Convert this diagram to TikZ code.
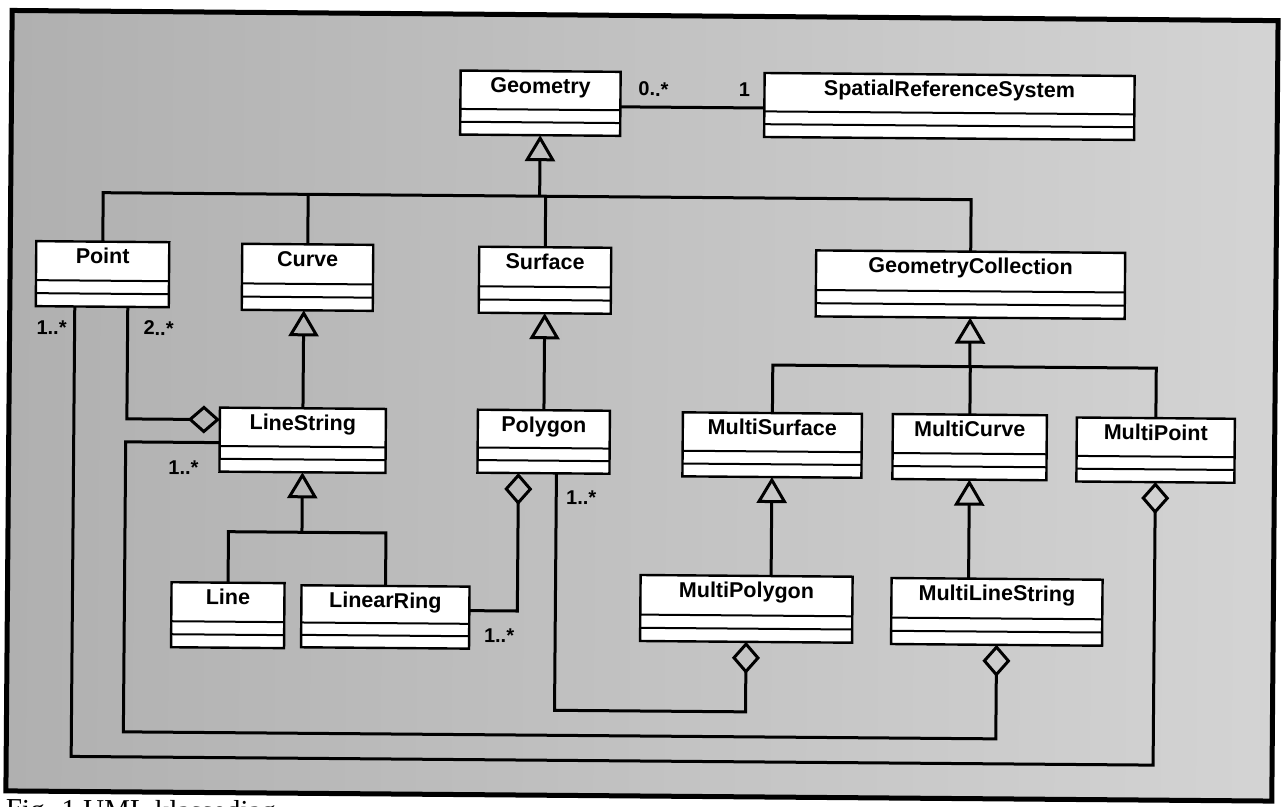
\documentclass[tikz,border=0pt]{standalone}
\usepackage{fontspec}
\setsansfont{Liberation Sans}
\newfontfamily\capfont{Liberation Serif}
\usetikzlibrary{arrows.meta,calc}
\tikzset{
  clsbox/.style={draw=black,fill=white,line width=2.4pt,inner sep=0pt,outer sep=0pt},
  clsname/.style={anchor=base,inner sep=0pt,font=\sffamily\bfseries\fontsize{21.5}{25}\selectfont},
  cmpline/.style={line width=2pt},
  conn/.style={line width=3pt},
  mult/.style={inner sep=0pt,font=\sffamily\bfseries\fontsize{20}{22}\selectfont},
  gentip/.tip={Triangle[open,width=30pt,length=26pt]},
  aggtip/.tip={Diamond[open,width=28pt,length=32pt]}
}
\newcommand\umlclass[6]{%
  \node[clsbox,minimum width={(#4)-(#2)},minimum height={(#5)-(#3)}] (#1) at ({((#2)+(#4))/2},{((#3)+(#5))/2}) {};
  \draw[cmpline] ($(#1.north west)!0.6!(#1.south west)$) -- ($(#1.north east)!0.6!(#1.south east)$);
  \draw[cmpline] ($(#1.north west)!0.8!(#1.south west)$) -- ($(#1.north east)!0.8!(#1.south east)$);
  \node[clsname] (#1-t) at ($(#1.north)+(0,22)$) {#6};
}
\begin{document}
\begin{tikzpicture}[x=1pt,y=-1pt]
\fill[white] (0,0) rectangle (1282,806);
\useasboundingbox (0,0) rectangle (1282,806);
\clip (0,0) rectangle (1282,806);
\begin{scope}[transform canvas={rotate around={-0.46:(641,403)}}]
\shade[left color=black!31,right color=black!17] (9,15.5) rectangle (1275,796);
\draw[line width=5pt] (9,15.5) rectangle (1275,796);
\node[anchor=base west,inner sep=0pt,font=\capfont\fontsize{29}{32}\selectfont] (cap) at (9,824) {Fig. 1 UML klassediagram};

% classes
\umlclass{geo}{458}{72}{618}{136}{Geometry}
\umlclass{srs}{762}{72}{1132}{136}{SpatialReferenceSystem}
\umlclass{pt}{35}{246}{168}{311}{Point}
\umlclass{cv}{241}{247}{372}{313}{Curve}
\umlclass{sf}{478}{248}{610}{314}{Surface}
\umlclass{gc}{815}{249}{1124}{315}{GeometryCollection}
\umlclass{ls}{220}{411}{386}{475}{LineString}
\umlclass{pg}{478}{411}{610}{474}{Polygon}
\umlclass{msf}{683}{412}{862}{476}{MultiSurface}
\umlclass{mcv}{893}{412}{1047}{477}{MultiCurve}
\umlclass{mpt}{1077}{414}{1235}{478}{MultiPoint}
\umlclass{ln}{173}{586}{286}{651}{Line}
\umlclass{lr}{303}{588}{471}{650}{LinearRing}
\umlclass{mpg}{642}{575}{854}{641}{MultiPolygon}
\umlclass{mls}{893}{576}{1104}{642}{MultiLineString}

% association Geometry - SRS
\coordinate (a1) at ($(geo.north east)+(0,35)$);
\draw[conn] (a1) -- (a1 -| srs.west);
\node[mult] (m-geo) at (651,89) {0..*};
\node[mult] (m-srs) at (742,89) {1};

% generalization to Geometry
\coordinate (b1) at (538,197);
\draw[conn,-{gentip}] (b1) -- (geo.south);
\draw[conn] (pt.north) |- (gc.north |- b1) -- (gc.north);
\draw[conn] (cv.north) -- (cv.north |- b1);
\draw[conn] (sf.north) -- (sf.north |- b1);

% Curve / Surface
\draw[conn,-{gentip}] (ls.north) -- (ls.north |- cv.south);
\draw[conn,-{gentip}] (pg.north) -- (sf.south);

% GeometryCollection
\coordinate (b2) at (969.5,364);
\draw[conn,-{gentip}] (b2) -- (gc.south);
\draw[conn] (msf.north) |- (mpt.north |- b2) -- (mpt.north);
\draw[conn] (mcv.north) -- (mcv.north |- b2);
\draw[conn,-{gentip}] (msf.south |- mpg.north) -- (msf.south);
\draw[conn,-{gentip}] (mcv.south |- mls.north) -- (mcv.south);

% LineString subclasses
\coordinate (b3) at (303,535);
\draw[conn,-{gentip}] (b3) -- (ls.south);
\draw[conn] (ln.north) |- (lr.north |- b3) -- (lr.north);

% aggregations
\draw[conn,{aggtip}-] ($(pg.south west)+(41,0)$) |- (lr.east |- 0,612);
\node[mult] (m-lr) at (501,637) {1..*};

\draw[conn,{aggtip}-] (mpg.south) |- (557,711) -- ($(pg.south west)+(79,0)$);
\node[mult] (m-pg) at (582,498) {1..*};

\draw[conn,{aggtip}-] (mls.south) |- (126,736) |- (ls.west |- 0,446);
\node[mult] (m-ls) at (184,471) {1..*};

\draw[conn,{aggtip}-] (ls.west |- 0,423) -| ($(pt.south west)+(92,0)$);
\node[mult] (m-pt2) at (158,332) {2..*};

\draw[conn,{aggtip}-] (mpt.south) |- (74,761) -- ($(pt.south west)+(39,0)$);
\node[mult] (m-pt1) at (51,332) {1..*};
\end{scope}
\end{tikzpicture}
\end{document}
